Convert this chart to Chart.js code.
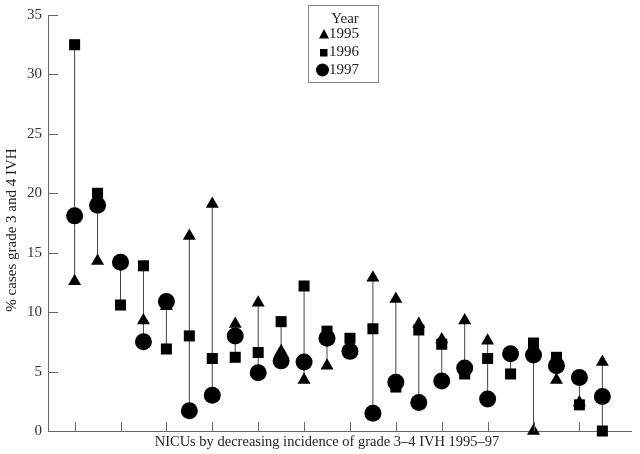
<!DOCTYPE html>
<html><head><meta charset="utf-8">
<script src="https://cdn.jsdelivr.net/npm/chart.js@4/dist/chart.umd.min.js"></script>
<style>html,body{margin:0;padding:0;background:#fff}canvas{display:block}</style>
</head><body>
<canvas id="c" width="640" height="454"></canvas>
<script>
const nicus = [1,2,3,4,5,6,7,8,9,10,11,12,13,14,15,16,17,18,19,20,21,22,23,24];
const y1995 = [12.6,14.3,14.2,9.3,10.5,16.4,19.1,9.0,10.8,6.7,4.3,5.5,7.2,12.9,11.1,9.0,7.7,9.3,7.6,6.5,0.0,4.3,2.4,5.8];
const y1996 = [32.5,20.0,10.6,13.9,6.9,8.0,6.1,6.2,6.6,9.2,12.2,8.4,7.8,8.6,3.7,8.5,7.3,4.8,6.1,4.8,7.4,6.2,2.2,0.0];
const y1997 = [18.1,19.0,14.2,7.5,10.9,1.7,3.0,8.0,4.9,5.9,5.8,7.8,6.7,1.5,4.1,2.4,4.2,5.3,2.7,6.5,6.4,5.5,4.5,2.9];
const yTicks = [0,5,10,15,20,25,30,35];
const xTickNicus = [1,3,5,7,9,11,13,15,17,19,21,23];
const seriesNames = ['1995','1996','1997'];
const legendTitle = 'Year';
const xTitle = 'NICUs by decreasing incidence of grade 3\u20134 IVH 1995\u201397';
const yTitle = '% cases grade 3 and 4 IVH';

const FONT = "'Liberation Serif','Times New Roman',serif";
const pts = (arr) => nicus.map((n, i) => ({x: n, y: arr[i]}));
const ranges = [];
nicus.forEach((n, i) => {
  const v = [y1995[i], y1996[i], y1997[i]];
  ranges.push({x: n, y: Math.min(...v)}, {x: n, y: Math.max(...v)}, {x: n, y: null});
});

const deco = {
  id: 'deco',
  afterDraw(chart) {
    const ctx = chart.ctx, xs = chart.scales.x, ys = chart.scales.y;
    const ca = chart.chartArea;
    ctx.save();
    ctx.strokeStyle = '#666';
    ctx.lineWidth = 1;
    ctx.beginPath();
    yTicks.forEach(t => {
      if (t === 0) return;
      const py = Math.round(ys.getPixelForValue(t)) + 0.5;
      ctx.moveTo(ca.left, py); ctx.lineTo(ca.left + 10, py);
    });
    xTickNicus.forEach(t => {
      const px = Math.round(xs.getPixelForValue(t)) + 0.5;
      ctx.moveTo(px, ca.bottom); ctx.lineTo(px, ca.bottom - 9);
    });
    ctx.stroke();
    // axis titles
    ctx.fillStyle = '#222';
    ctx.textAlign = 'center';
    ctx.textBaseline = 'middle';
    ctx.font = '14.5px ' + FONT;
    ctx.fillText(xTitle, 327, 442);
    ctx.font = '15px ' + FONT;
    ctx.save();
    ctx.translate(12, 230);
    ctx.rotate(-Math.PI / 2);
    ctx.fillText(yTitle, 0, 0);
    ctx.restore();
    // legend
    ctx.strokeStyle = '#888';
    ctx.strokeRect(308.5, 5.5, 70, 77);
    ctx.fillText(legendTitle, 345, 19);
    ctx.textAlign = 'left';
    const rows = [34, 52, 70];
    rows.forEach((ry, i) => ctx.fillText(seriesNames[i], 329, ry));
    ctx.fillStyle = '#000';
    ctx.beginPath();
    ctx.moveTo(324, 29); ctx.lineTo(329, 38.5); ctx.lineTo(319, 38.5); ctx.closePath(); ctx.fill();
    ctx.fillRect(320, 49, 7.5, 7.5);
    ctx.beginPath(); ctx.arc(322.5, 70, 6.5, 0, Math.PI * 2); ctx.fill();
    ctx.restore();
  }
};

new Chart(document.getElementById('c'), {
  type: 'scatter',
  data: {
    datasets: [
      {label: seriesNames[2], data: pts(y1997), pointStyle: 'circle', pointRadius: 8.5, backgroundColor: '#000', borderColor: '#000', borderWidth: 0, order: 0, clip: false},
      {label: seriesNames[1], data: pts(y1996), pointStyle: 'rect', pointRadius: 7.8, backgroundColor: '#000', borderColor: '#000', borderWidth: 0, order: 1, clip: false},
      {label: seriesNames[0], data: pts(y1995), pointStyle: 'triangle', pointRadius: 7.5, backgroundColor: '#000', borderColor: '#000', borderWidth: 0, order: 2, clip: false},
      {label: 'range', data: ranges, showLine: true, spanGaps: false, pointRadius: 0, borderColor: '#444', borderWidth: 1, order: 3, clip: false}
    ]
  },
  options: {
    responsive: false,
    animation: false,
    devicePixelRatio: 1,
    events: [],
    layout: {padding: {top: 5, right: 0, bottom: 0, left: 0}},
    plugins: {legend: {display: false}, tooltip: {enabled: false}},
    scales: {
      x: {
        type: 'linear', min: -0.16, max: 25.27,
        afterFit: s => { s.height = 23; },
        grid: {drawOnChartArea: false, drawTicks: false},
        border: {display: true, color: '#666', width: 1},
        ticks: {display: false}
      },
      y: {
        min: 0, max: 35,
        afterFit: s => { s.width = 48; },
        afterBuildTicks: s => { s.ticks = yTicks.map(v => ({value: v})); },
        grid: {drawOnChartArea: false, drawTicks: false},
        border: {display: true, color: '#666', width: 1},
        ticks: {padding: 6, color: '#333', font: {family: FONT, size: 15}}
      }
    }
  },
  plugins: [deco]
});
</script>
</body></html>
